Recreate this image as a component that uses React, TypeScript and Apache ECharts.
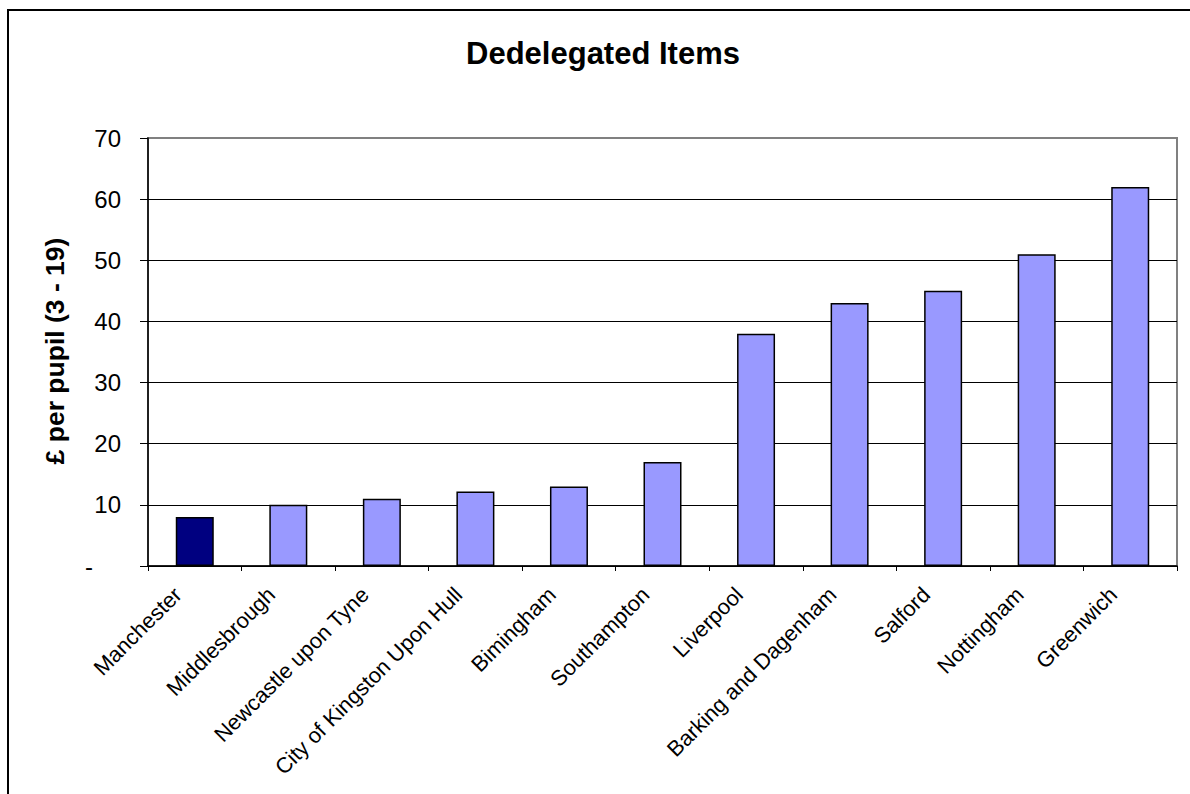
import React, { useEffect, useRef } from "react";
import * as echarts from "echarts";

// Local authorities, ordered by spend
const authorities = [
  "Manchester",
  "Middlesbrough",
  "Newcastle upon Tyne",
  "City of Kingston Upon Hull",
  "Bimingham",
  "Southampton",
  "Liverpool",
  "Barking and Dagenham",
  "Salford",
  "Nottingham",
  "Greenwich",
];

// Dedelegated items, £ per pupil (3 - 19)
const perPupil = [8, 10, 11, 12.2, 13, 17, 38, 43, 45, 51, 62];

const highlighted = "Manchester";

const yMin = 0;
const yMax = 70;
const yStep = 10;

const FONT = "'Liberation Sans', Arial, Helvetica, sans-serif";

export default function App() {
  const ref = useRef<HTMLDivElement>(null);

  useEffect(() => {
    if (!ref.current) return;
    const chart = echarts.init(ref.current, null, { renderer: "svg" });

    const splitColors: string[] = [];
    for (let v = yMin; v <= yMax; v += yStep) {
      splitColors.push(v === yMax ? "#808080" : "#000000");
    }

    chart.setOption({
      animation: false,
      backgroundColor: "#ffffff",
      textStyle: { fontFamily: FONT, color: "#000" },
      grid: {
        left: 148,
        right: 13,
        top: 138,
        bottom: 228,
        containLabel: false,
        show: true,
        borderColor: "#808080",
        borderWidth: 2,
      },
      graphic: [
        {
          type: "rect",
          shape: { x: 8, y: 10, width: 1400, height: 1000 },
          style: { fill: "none", stroke: "#000", lineWidth: 2 },
          silent: true,
        },
        {
          type: "text",
          x: 603,
          y: 53,
          style: {
            text: "Dedelegated Items",
            fontFamily: FONT,
            fontWeight: "bold",
            fontSize: 31,
            fill: "#000",
            align: "center",
            verticalAlign: "middle",
          },
        },
        {
          type: "text",
          x: 55,
          y: 351,
          rotation: Math.PI / 2,
          style: {
            text: "£ per pupil (3 - 19)",
            fontFamily: FONT,
            fontWeight: "bold",
            fontSize: 26.5,
            fill: "#000",
            align: "center",
            verticalAlign: "middle",
          },
        },
      ],
      xAxis: {
        type: "category",
        data: authorities,
        boundaryGap: true,
        axisLine: { show: true, lineStyle: { color: "#000", width: 1.5 } },
        axisTick: {
          show: true,
          alignWithLabel: false,
          interval: 0,
          length: 5,
          lineStyle: { color: "#000", width: 1 },
        },
        axisLabel: {
          interval: 0,
          rotate: 45,
          margin: 8,
          padding: [0, 24, 0, 0],
          fontSize: 21.8,
          fontFamily: FONT,
          color: "#000",
        },
        splitLine: { show: false },
      },
      yAxis: {
        type: "value",
        min: yMin,
        max: yMax,
        interval: yStep,
        axisLine: { show: true, lineStyle: { color: "#000", width: 1.5 } },
        axisTick: {
          show: true,
          inside: false,
          length: 8,
          lineStyle: { color: "#000", width: 1 },
        },
        axisLabel: {
          margin: 27,
          fontSize: 24,
          fontFamily: FONT,
          color: "#000",
          formatter: (v: number) => (v === 0 ? "{d|-}" : String(v)),
          rich: {
            d: { fontSize: 24, fontFamily: FONT, color: "#000", padding: [0, 28, 0, 0] },
          },
        },
        splitLine: {
          show: true,
          lineStyle: { color: splitColors, width: 1 },
        },
      },
      series: [
        {
          type: "bar",
          barWidth: 38,
          data: perPupil.map((v, i) => ({
            value: v,
            itemStyle: {
              color: authorities[i] === highlighted ? "#000080" : "#9999FF",
            },
          })),
          itemStyle: { borderColor: "#000", borderWidth: 1.5 },
        },
      ],
    });

    return () => chart.dispose();
  }, []);

  return (
    <div
      ref={ref}
      style={{ position: "fixed", left: 0, top: 0, width: 1190, height: 794 }}
    />
  );
}
